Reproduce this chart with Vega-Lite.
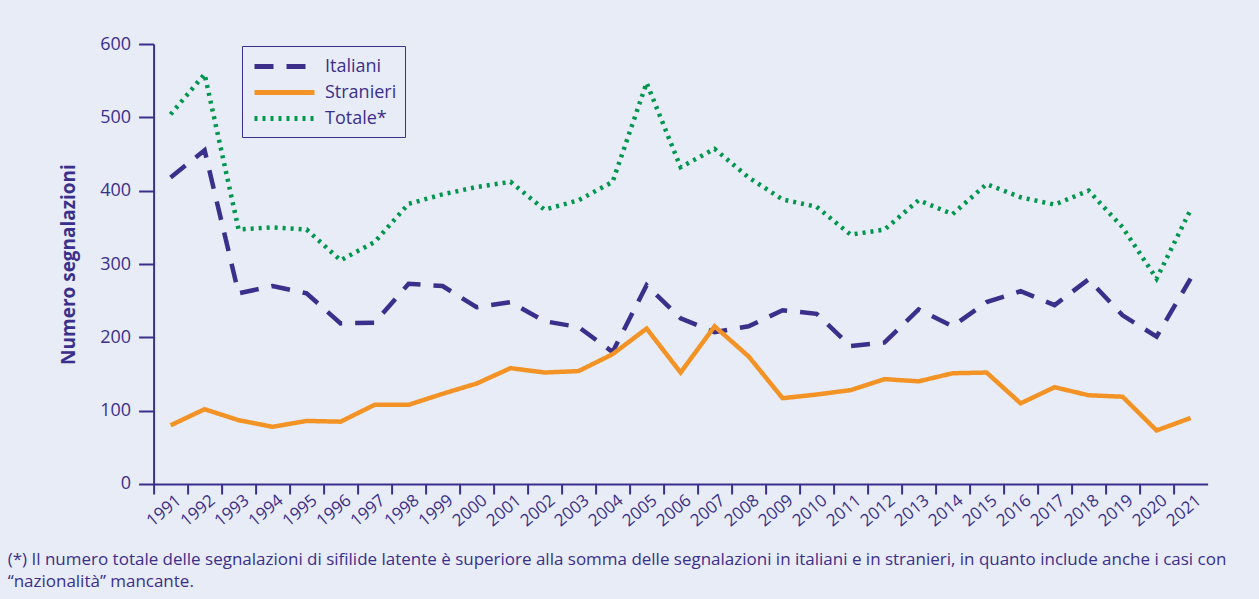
{
  "$schema": "https://vega.github.io/schema/vega-lite/v6.json",
  "width": 1054,
  "height": 440,
  "autosize": {"type": "none"},
  "padding": {"left": 153.6, "top": 44, "right": 51, "bottom": 115},
  "background": "#e8ecf6",
  "config": {
    "view": {"stroke": null},
    "font": "Open Sans",
    "legend": {
      "orient": "none",
      "legendX": 88.4,
      "legendY": 2,
      "strokeColor": "#3b2f8c",
      "fillColor": "#e8ecf6",
      "padding": 8,
      "symbolType": "M-0.8,0H5.2",
      "symbolSize": 400,
      "symbolStrokeWidth": 5,
      "labelFontSize": 18,
      "labelColor": "#3b2f8c",
      "labelOffset": 50,
      "labelExpr": "datum.label + '\u00a0\u00a0\u00a0\u00a0'",
      "rowPadding": 3
    }
  },
  "title": {
    "text": [
      "(*) Il numero totale delle segnalazioni di sifilide latente è superiore alla somma delle segnalazioni in italiani e in stranieri, in quanto include anche i casi con",
      "“nazionalità” mancante."
    ],
    "orient": "bottom",
    "anchor": "start",
    "frame": "bounds",
    "dx": -52,
    "offset": 23,
    "fontSize": 17,
    "fontWeight": "normal",
    "color": "#3b2f8c",
    "lineHeight": 22
  },
  "data": {
    "values": [
      {"anno": "1991", "serie": "Italiani", "valore": 418},
      {"anno": "1992", "serie": "Italiani", "valore": 455},
      {"anno": "1993", "serie": "Italiani", "valore": 260},
      {"anno": "1994", "serie": "Italiani", "valore": 270},
      {"anno": "1995", "serie": "Italiani", "valore": 260},
      {"anno": "1996", "serie": "Italiani", "valore": 219},
      {"anno": "1997", "serie": "Italiani", "valore": 220},
      {"anno": "1998", "serie": "Italiani", "valore": 273},
      {"anno": "1999", "serie": "Italiani", "valore": 270},
      {"anno": "2000", "serie": "Italiani", "valore": 241},
      {"anno": "2001", "serie": "Italiani", "valore": 248},
      {"anno": "2002", "serie": "Italiani", "valore": 222},
      {"anno": "2003", "serie": "Italiani", "valore": 214},
      {"anno": "2004", "serie": "Italiani", "valore": 180},
      {"anno": "2005", "serie": "Italiani", "valore": 271},
      {"anno": "2006", "serie": "Italiani", "valore": 226},
      {"anno": "2007", "serie": "Italiani", "valore": 207},
      {"anno": "2008", "serie": "Italiani", "valore": 215},
      {"anno": "2009", "serie": "Italiani", "valore": 237},
      {"anno": "2010", "serie": "Italiani", "valore": 232},
      {"anno": "2011", "serie": "Italiani", "valore": 188},
      {"anno": "2012", "serie": "Italiani", "valore": 193},
      {"anno": "2013", "serie": "Italiani", "valore": 238},
      {"anno": "2014", "serie": "Italiani", "valore": 215},
      {"anno": "2015", "serie": "Italiani", "valore": 248},
      {"anno": "2016", "serie": "Italiani", "valore": 263},
      {"anno": "2017", "serie": "Italiani", "valore": 244},
      {"anno": "2018", "serie": "Italiani", "valore": 279},
      {"anno": "2019", "serie": "Italiani", "valore": 230},
      {"anno": "2020", "serie": "Italiani", "valore": 201},
      {"anno": "2021", "serie": "Italiani", "valore": 280},
      {"anno": "1991", "serie": "Stranieri", "valore": 80},
      {"anno": "1992", "serie": "Stranieri", "valore": 102},
      {"anno": "1993", "serie": "Stranieri", "valore": 87},
      {"anno": "1994", "serie": "Stranieri", "valore": 78},
      {"anno": "1995", "serie": "Stranieri", "valore": 86},
      {"anno": "1996", "serie": "Stranieri", "valore": 85},
      {"anno": "1997", "serie": "Stranieri", "valore": 108},
      {"anno": "1998", "serie": "Stranieri", "valore": 108},
      {"anno": "1999", "serie": "Stranieri", "valore": 123},
      {"anno": "2000", "serie": "Stranieri", "valore": 137},
      {"anno": "2001", "serie": "Stranieri", "valore": 158},
      {"anno": "2002", "serie": "Stranieri", "valore": 152},
      {"anno": "2003", "serie": "Stranieri", "valore": 154},
      {"anno": "2004", "serie": "Stranieri", "valore": 177},
      {"anno": "2005", "serie": "Stranieri", "valore": 212},
      {"anno": "2006", "serie": "Stranieri", "valore": 152},
      {"anno": "2007", "serie": "Stranieri", "valore": 215},
      {"anno": "2008", "serie": "Stranieri", "valore": 174},
      {"anno": "2009", "serie": "Stranieri", "valore": 117},
      {"anno": "2010", "serie": "Stranieri", "valore": 122},
      {"anno": "2011", "serie": "Stranieri", "valore": 128},
      {"anno": "2012", "serie": "Stranieri", "valore": 143},
      {"anno": "2013", "serie": "Stranieri", "valore": 140},
      {"anno": "2014", "serie": "Stranieri", "valore": 151},
      {"anno": "2015", "serie": "Stranieri", "valore": 152},
      {"anno": "2016", "serie": "Stranieri", "valore": 110},
      {"anno": "2017", "serie": "Stranieri", "valore": 132},
      {"anno": "2018", "serie": "Stranieri", "valore": 121},
      {"anno": "2019", "serie": "Stranieri", "valore": 119},
      {"anno": "2020", "serie": "Stranieri", "valore": 73},
      {"anno": "2021", "serie": "Stranieri", "valore": 90},
      {"anno": "1991", "serie": "Totale*", "valore": 504},
      {"anno": "1992", "serie": "Totale*", "valore": 559},
      {"anno": "1993", "serie": "Totale*", "valore": 347},
      {"anno": "1994", "serie": "Totale*", "valore": 350},
      {"anno": "1995", "serie": "Totale*", "valore": 347},
      {"anno": "1996", "serie": "Totale*", "valore": 305},
      {"anno": "1997", "serie": "Totale*", "valore": 330},
      {"anno": "1998", "serie": "Totale*", "valore": 382},
      {"anno": "1999", "serie": "Totale*", "valore": 395},
      {"anno": "2000", "serie": "Totale*", "valore": 405},
      {"anno": "2001", "serie": "Totale*", "valore": 412},
      {"anno": "2002", "serie": "Totale*", "valore": 374},
      {"anno": "2003", "serie": "Totale*", "valore": 387},
      {"anno": "2004", "serie": "Totale*", "valore": 412},
      {"anno": "2005", "serie": "Totale*", "valore": 547},
      {"anno": "2006", "serie": "Totale*", "valore": 432},
      {"anno": "2007", "serie": "Totale*", "valore": 457},
      {"anno": "2008", "serie": "Totale*", "valore": 418},
      {"anno": "2009", "serie": "Totale*", "valore": 388},
      {"anno": "2010", "serie": "Totale*", "valore": 378},
      {"anno": "2011", "serie": "Totale*", "valore": 340},
      {"anno": "2012", "serie": "Totale*", "valore": 347},
      {"anno": "2013", "serie": "Totale*", "valore": 387},
      {"anno": "2014", "serie": "Totale*", "valore": 368},
      {"anno": "2015", "serie": "Totale*", "valore": 409},
      {"anno": "2016", "serie": "Totale*", "valore": 391},
      {"anno": "2017", "serie": "Totale*", "valore": 381},
      {"anno": "2018", "serie": "Totale*", "valore": 400},
      {"anno": "2019", "serie": "Totale*", "valore": 350},
      {"anno": "2020", "serie": "Totale*", "valore": 280},
      {"anno": "2021", "serie": "Totale*", "valore": 374}
    ]
  },
  "mark": {"type": "line", "strokeWidth": 4.5},
  "encoding": {
    "x": {
      "field": "anno",
      "type": "ordinal",
      "scale": {"type": "point", "padding": 0.5},
      "axis": {
        "title": null,
        "domainColor": "#3b2f8c",
        "domainWidth": 2,
        "tickColor": "#3b2f8c",
        "tickWidth": 2,
        "tickSize": 10,
        "tickOffset": -17,
        "labelOffset": 25,
        "labelAngle": -40,
        "labelAlign": "right",
        "labelBaseline": "middle",
        "labelFontSize": 17,
        "labelColor": "#3b2f8c",
        "labelPadding": 4
      }
    },
    "y": {
      "field": "valore",
      "type": "quantitative",
      "scale": {"domain": [0, 600]},
      "axis": {
        "title": "Numero segnalazioni",
        "titleFontSize": 19,
        "titleFontWeight": "bold",
        "titleColor": "#3b2f8c",
        "titlePadding": 21,
        "values": [0, 100, 200, 300, 400, 500, 600],
        "grid": false,
        "domainColor": "#3b2f8c",
        "domainWidth": 2,
        "tickColor": "#3b2f8c",
        "tickWidth": 2,
        "tickSize": 15,
        "labelFontSize": 18,
        "labelColor": "#3b2f8c",
        "labelPadding": 8
      }
    },
    "color": {
      "field": "serie",
      "type": "nominal",
      "scale": {"domain": ["Italiani", "Stranieri", "Totale*"], "range": ["#3b2f8c", "#f39325", "#00964e"]},
      "legend": {"title": null}
    },
    "strokeDash": {
      "field": "serie",
      "type": "nominal",
      "scale": {"domain": ["Italiani", "Stranieri", "Totale*"], "range": [[19, 13], [1, 0], [3, 5]]},
      "legend": {"title": null}
    }
  }
}
